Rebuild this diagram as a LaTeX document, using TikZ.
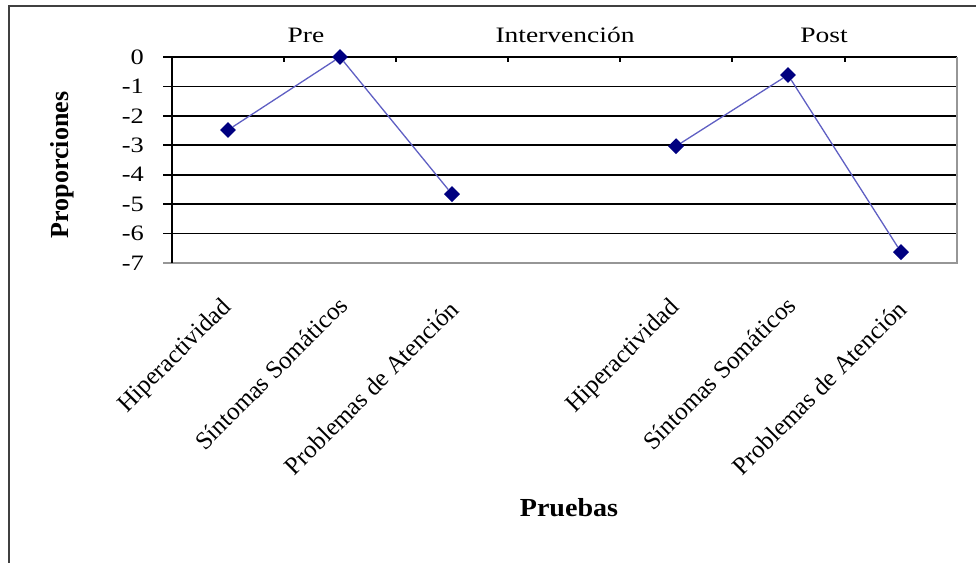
\documentclass[tikz,border=0pt]{standalone}
\usepackage{fontspec}
\setmainfont{Liberation Serif}
\usepackage{tikz}
\usetikzlibrary{shapes.geometric}

\definecolor{markernavy}{RGB}{0,0,128}
\definecolor{serieslilac}{RGB}{95,95,195}
\definecolor{framegray}{RGB}{150,150,150}

\begin{document}
\begin{tikzpicture}[
				x=1pt, y=-1pt,
				gridline/.style={
					draw=black,
					line width=1.7pt
				},
				plotframe/.style={
					draw=framegray,
					line width=1.7pt
				},
				marker/.style={
					diamond,
					fill=markernavy,
					inner sep=0pt,
					minimum size=16pt
				},
				series/.style={
					draw=serieslilac,
					line width=1.3pt
				},
				ticklabel/.style={
					font=\fontsize{22}{24}\selectfont,
					anchor=east,
					xscale=1.2,
					inner sep=0pt
				},
				catlabel/.style={
					font=\fontsize{25}{27}\selectfont,
					anchor=east,
					rotate=45,
					inner sep=0pt
				},
				phaselabel/.style={
					font=\fontsize{22}{24}\selectfont,
					xscale=1.25
				},
				axistitle/.style={
					font=\bfseries\fontsize{26}{28}\selectfont
				}
			]

				\useasboundingbox (0,0) rectangle (976,562);
				\draw[draw=black!75, line width=1.5pt] (9,6) rectangle (1000,600);

				% value axis: one unit = 29.43pt, 0 at y = 57
				\begin{scope}[shift={(0,57)}, y=29.43pt]
					\foreach \v in {0,-1,...,-6} {
						\draw[gridline] (163,\v) -- (957,\v);
						\node[ticklabel] (yl\v) at (144,\v) {\v};
					}
					\node[ticklabel] (yl-7) at (144,-7) {-7};
					\draw[plotframe] (163,-7) -- (957,-7) -- (957,0);
					\draw[gridline] (172,0) -- (172,-7);
					\foreach \t in {284,396,508,620,732,845}
						\draw[black, line width=1.2pt] (\t,0) -- (\t,-0.17);

					\node[marker] (hpre) at (228,-2.48) {};
					\node[marker] (spre) at (340,0) {};
					\node[marker] (ppre) at (452,-4.66) {};
					\node[marker] (hpost) at (676,-3.03) {};
					\node[marker] (spost) at (788,-0.61) {};
					\node[marker] (ppost) at (901,-6.63) {};
				\end{scope}

				\draw[series] (hpre) -- (spre) -- (ppre);
				\draw[series] (hpost) -- (spost) -- (ppost);

				\node[phaselabel] (pre) at (306,35) {Pre};
				\node[phaselabel] (interv) at (565,35) {Intervención};
				\node[phaselabel] (post) at (824,35) {Post};

				\node[catlabel] (c1) at (228,304) {Hiperactividad};
				\node[catlabel] (c2) at (343,301) {Síntomas Somáticos};
				\node[catlabel] (c3) at (454,305) {Problemas de Atención};
				\node[catlabel] (c4) at (676,304) {Hiperactividad};
				\node[catlabel] (c5) at (791,301) {Síntomas Somáticos};
				\node[catlabel] (c6) at (902,305) {Problemas de Atención};

				\node[axistitle, rotate=90] (ytitle) at (62,165) {Proporciones};
				\node[axistitle, xscale=1.08] (xtitle) at (569,508) {Pruebas};

			\end{tikzpicture}
\end{document}
